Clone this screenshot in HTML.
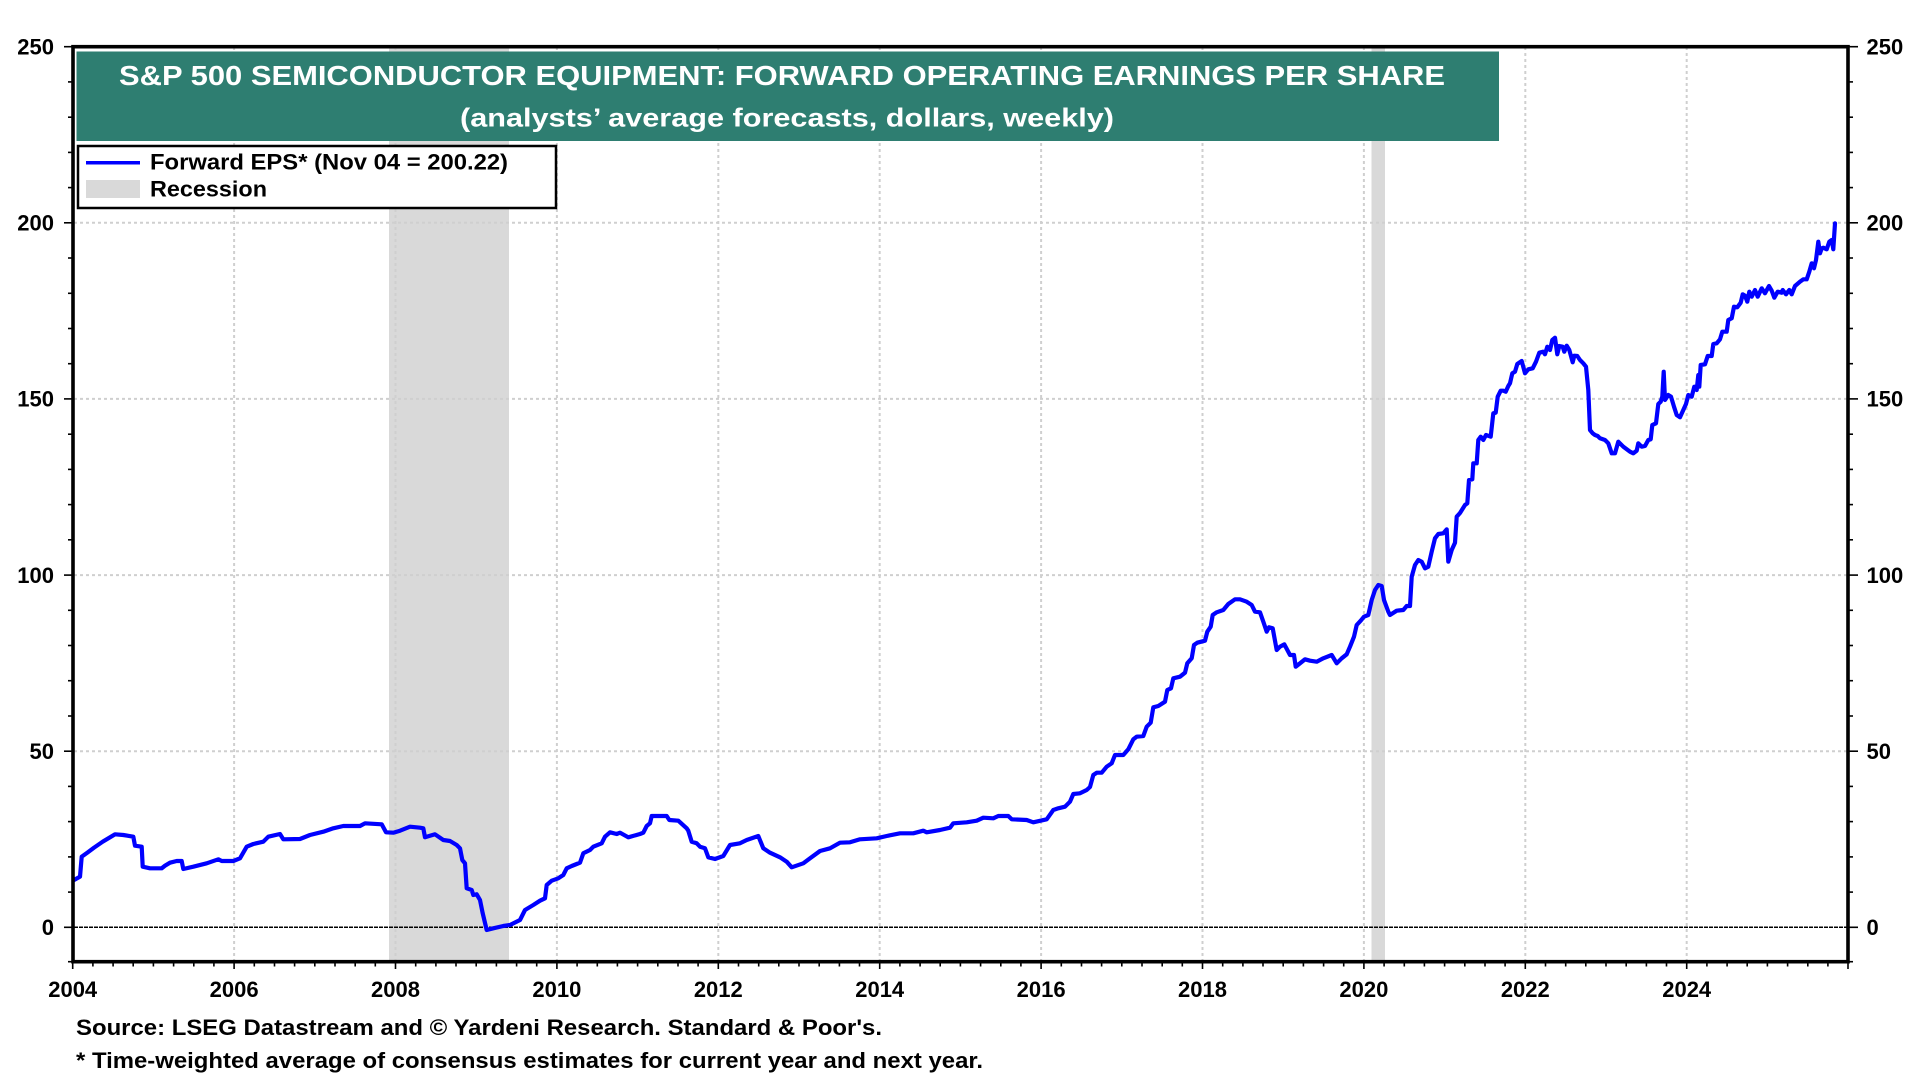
<!DOCTYPE html>
<html><head><meta charset="utf-8"><style>
html,body{margin:0;padding:0;background:#fff;}
svg{display:block;}
text{font-family:"Liberation Sans",Arial,sans-serif;font-weight:bold;}
</style></head><body>
<svg width="1920" height="1080" viewBox="0 0 1920 1080" xmlns="http://www.w3.org/2000/svg">
<rect x="0" y="0" width="1920" height="1080" fill="#fff"/>
<!-- recessions -->
<rect x="389" y="46.7" width="120" height="915" fill="#d9d9d9"/>
<rect x="1371.5" y="46.7" width="13.5" height="915" fill="#d9d9d9"/>
<!-- grid -->
<g stroke="#cfcfcf" stroke-width="2" stroke-dasharray="3,3" fill="none">
<line x1="234.1" y1="47" x2="234.1" y2="961"/>
<line x1="395.5" y1="47" x2="395.5" y2="961"/>
<line x1="556.9" y1="47" x2="556.9" y2="961"/>
<line x1="718.3" y1="47" x2="718.3" y2="961"/>
<line x1="879.7" y1="47" x2="879.7" y2="961"/>
<line x1="1041.1" y1="47" x2="1041.1" y2="961"/>
<line x1="1202.5" y1="47" x2="1202.5" y2="961"/>
<line x1="1363.9" y1="47" x2="1363.9" y2="961"/>
<line x1="1525.3" y1="47" x2="1525.3" y2="961"/>
<line x1="1686.7" y1="47" x2="1686.7" y2="961"/>
<line x1="74" y1="222.8" x2="1847" y2="222.8"/>
<line x1="74" y1="398.9" x2="1847" y2="398.9"/>
<line x1="74" y1="575.1" x2="1847" y2="575.1"/>
<line x1="74" y1="751.2" x2="1847" y2="751.2"/>
</g>
<line x1="74" y1="927.3" x2="1847" y2="927.3" stroke="#000" stroke-width="1.5" stroke-dasharray="4,1"/>
<!-- series -->
<polyline fill="none" stroke="#0000ff" stroke-width="4.2" stroke-linejoin="round" stroke-linecap="round" points="
74,880 80,876.7 81.7,856.7 87.3,852.7 94,847.7 102.7,841.7 110,837.3 115,834.3 123.3,835 133.3,836.7 135,845.7 141.7,846.7 142.7,866.7 150,868.3 161.7,868.3 165,865.7 170,862.7 176.7,861 181.7,861 183.3,869 193.3,866.7 206.7,863.3 218.3,859.3 221.7,861 233.3,861 240,858.3 246.7,846.7 253.3,844 263.3,841.7 268.3,836.7 280,834 283.3,839.3 300,839
310,835 323.3,831.7 333.3,828.3 343.3,826 360,826 365,823.3 381.7,824.3 386,832.3 393.3,832.7 400,830.7 410,826.7 420,827.7 423.3,828.3 425,837.3 435,834.3 443.3,840 450,841 456.7,845 460,848.3 462.3,860 465,863.3 466.7,888.3 471.7,890 473.3,895 476.7,894.3 480,900 482.7,913.3 486.7,930 493.3,928.3 503.3,926 510,925 520,920 525,910 533.3,905 540,900.7 545,898.3 546.7,885 551.7,880.7 558.3,878.3 563.3,875 566.7,868.3 571.7,866 576.7,864 580,862.7 583.3,853.3 590,850 593.3,846.7 601.7,843.3 605,836.7 610,832.3 616.7,834 620,832.7 628.3,837.3 640,834 643.3,832.7 646.7,826 650,823.3 651.7,816 666.7,816 669.3,820 678.3,820.7 686.7,828.3 688.3,830.7 691.7,841.7 696.7,843.3 700,846.7
705,848.3 708.3,857.3 715,859 723.3,856 730,845 740,843.3 746.7,840 758.3,836 763.3,848.3 770,852.7 780,857.3 786.7,861.7 791.7,867.3 803.3,863.3 810,858.3 820,851 830,848.3 840,842.7 850,842.3 860,839.3 876.7,838.3 886.7,836 900,833.3 913.3,833.3 923.3,830.7 926.7,832.3 940,830 950,827.7 953.3,823.3 966.7,822.3 976.7,820.7 983.3,817.7 993.3,818.3 998.3,816 1008.3,816 1011.7,819.3 1026.7,820 1033.3,822.3 1046.7,819.3 1053.3,810 1058.3,808.3 1065,806.7 1070,801.7 1073.3,794 1080,793.3 1086.7,790
1090,787 1093.3,775 1096.7,772.7 1101.7,772.7 1106.7,766.7 1111.7,763.3 1115,755 1123.3,755 1128.3,749.3 1133.3,739.3 1136.7,736.7 1143.3,736 1146.7,726.7 1150.7,722.7 1153.3,707.3 1158.3,706 1165,701.7 1167.3,690 1171,688.3 1173.3,678.3 1180,676.7 1185,672.7 1187.3,663.3 1191.7,658.3 1194,645 1197.3,642.7 1205,640.7 1207.3,631.7 1210.7,626.7 1212.7,615 1216.7,612.3 1223.3,610 1228.3,604 1235,599.3 1240,599.3 1246.7,601.7 1251.7,605 1255,611.7 1260,612.3 1263.3,621.7 1266.7,631.7 1269,627.3 1272.7,628.3 1276.7,650 1280,646.7 1284.3,644.3 1290,655 1294,655 1295.7,666.7 1300,663.3 1305,659.3 1310,660.7 1316.7,661.7 1323.3,658.3 1331.7,655 1336.7,663.3 1341.7,658.3 1346.7,654.3 1350,646.7 1354,636.7 1356.7,625 1360.7,620.7 1364,616.7 1368.3,615 1371.7,600 1375,590 1378.3,585 1381.7,586 1384,600 1388.3,611.7 1390,615 1396.7,610.7 1403.3,610 1406.7,606 1410,606 1411.7,576.7 1415,565 1418.3,560 1421.7,561.7 1425,568.3 1428.3,566.7 1431.7,551.7 1435,538.3 1438.3,534 1443.3,533.3 1446.7,529.3 1448.3,561.7 1451.7,550 1455,542.7 1456.7,516.7
1460,513 1465,505 1467.3,503.3 1469,480 1472.3,479.3 1473.3,463.3 1476.7,463.3 1478.3,440 1480.7,436.7 1483.3,440 1486,435 1490.7,436.7 1493.3,413.3 1495.7,412.7 1497.7,396.7 1500.7,390.7 1503.3,390.7 1505.7,391.7 1508.3,386 1510,383.3 1512.3,373.3 1515,371.7 1517.3,364 1521.7,361 1525,373.3 1528.3,369.3 1532.7,368.3 1536,361.7 1539.3,352.7 1543.3,351.7 1545,354.3 1547.3,346.7 1550,350 1552.3,340 1555,337.7 1557.3,354.3 1559.3,346 1562.7,346.7 1564.3,351.7 1566.7,345.7 1569.3,350 1572.7,362.3 1574.3,355.7 1577.3,356 1580,360 1583.3,363.3 1586,366.7 1588.3,390 1590,430 1592.7,433.3 1595,435 1597.7,436 1600,438.3 1605,440 1608.3,443.3 1611.7,453.3 1615,453.3 1618.3,441.7 1623.3,446.7 1630,451.7 1633.3,453.3 1636.7,450.7 1638.3,443.3 1641.7,446.7 1645,446 1648.3,440 1650.7,439.3 1652.3,425 1656,423.3 1658.3,404 1660.7,401.7 1662.3,396.7 1663.7,371.7 1665,400 1668.3,395 1671,396.7 1674,406.7 1676.7,415 1680,417.3 1683.3,410 1686,404 1688.3,395 1691.7,396.7 1694.3,386.7 1696.7,390 1698.3,375 1699.3,386.7 1700.7,365 1705,364.3 1707.7,356 1711.7,356 1713.3,344 1716.7,343.3 1720,339.3 1722.3,331.7 1726.7,331.7 1728.3,320 1731.7,318.3 1734,306.7 1737.3,307.3 1740.7,302.7 1742.7,294.3 1745,295.7 1747.3,301.7 1749.3,291.7 1751.7,296.7 1755,290 1757.7,296.7 1761.7,288.3 1765,293.3 1769,286 1771.7,290.7 1774.3,297.7 1777.7,291.7 1781.7,292.7 1782.7,290 1786,294.3 1789.3,290 1791.7,294.3 1795,286 1800,281.7 1803.3,279.3 1806.7,279.3 1809.3,271.7 1811.7,263.3 1814,268.3 1816,260 1818.3,241.7 1820,253.3 1821.7,248.3 1823.3,247.7 1826.7,249.3 1829.3,241.7 1831.7,240 1833.3,249.3 1835,223.3"/>
<!-- title box -->
<rect x="76.5" y="51.5" width="1422.5" height="89.5" fill="#2e7e71"/>
<text x="782" y="85" font-size="28" fill="#fff" text-anchor="middle" textLength="1326" lengthAdjust="spacingAndGlyphs">S&amp;P 500 SEMICONDUCTOR EQUIPMENT: FORWARD OPERATING EARNINGS PER SHARE</text>
<text x="787" y="126.5" font-size="26" fill="#fff" text-anchor="middle" textLength="654" lengthAdjust="spacingAndGlyphs">(analysts’ average forecasts, dollars, weekly)</text>
<!-- legend -->
<rect x="78" y="146" width="478" height="62" fill="#fff" stroke="#000" stroke-width="2.5"/>
<line x1="86" y1="162.7" x2="140" y2="162.7" stroke="#0000ff" stroke-width="3.5"/>
<rect x="86" y="180" width="54" height="18" fill="#d9d9d9"/>
<text x="150" y="169.3" font-size="22" fill="#000" textLength="358" lengthAdjust="spacingAndGlyphs">Forward EPS* (Nov 04 = 200.22)</text>
<text x="150" y="196.7" font-size="22" fill="#000" textLength="117" lengthAdjust="spacingAndGlyphs">Recession</text>
<!-- frame -->
<rect x="73" y="46.7" width="1775" height="915" fill="none" stroke="#000" stroke-width="3.6"/>
<!-- y ticks -->
<g stroke="#000" stroke-width="1.6">
<line x1="64" y1="46.7" x2="73" y2="46.7"/><line x1="1848" y1="46.7" x2="1858" y2="46.7"/>
<line x1="68" y1="81.9" x2="73" y2="81.9"/><line x1="1848" y1="81.9" x2="1853" y2="81.9"/>
<line x1="68" y1="117.2" x2="73" y2="117.2"/><line x1="1848" y1="117.2" x2="1853" y2="117.2"/>
<line x1="68" y1="152.4" x2="73" y2="152.4"/><line x1="1848" y1="152.4" x2="1853" y2="152.4"/>
<line x1="68" y1="187.6" x2="73" y2="187.6"/><line x1="1848" y1="187.6" x2="1853" y2="187.6"/>
<line x1="64" y1="222.8" x2="73" y2="222.8"/><line x1="1848" y1="222.8" x2="1858" y2="222.8"/>
<line x1="68" y1="258.0" x2="73" y2="258.0"/><line x1="1848" y1="258.0" x2="1853" y2="258.0"/>
<line x1="68" y1="293.3" x2="73" y2="293.3"/><line x1="1848" y1="293.3" x2="1853" y2="293.3"/>
<line x1="68" y1="328.5" x2="73" y2="328.5"/><line x1="1848" y1="328.5" x2="1853" y2="328.5"/>
<line x1="68" y1="363.7" x2="73" y2="363.7"/><line x1="1848" y1="363.7" x2="1853" y2="363.7"/>
<line x1="64" y1="398.9" x2="73" y2="398.9"/><line x1="1848" y1="398.9" x2="1858" y2="398.9"/>
<line x1="68" y1="434.2" x2="73" y2="434.2"/><line x1="1848" y1="434.2" x2="1853" y2="434.2"/>
<line x1="68" y1="469.4" x2="73" y2="469.4"/><line x1="1848" y1="469.4" x2="1853" y2="469.4"/>
<line x1="68" y1="504.6" x2="73" y2="504.6"/><line x1="1848" y1="504.6" x2="1853" y2="504.6"/>
<line x1="68" y1="539.8" x2="73" y2="539.8"/><line x1="1848" y1="539.8" x2="1853" y2="539.8"/>
<line x1="64" y1="575.1" x2="73" y2="575.1"/><line x1="1848" y1="575.1" x2="1858" y2="575.1"/>
<line x1="68" y1="610.3" x2="73" y2="610.3"/><line x1="1848" y1="610.3" x2="1853" y2="610.3"/>
<line x1="68" y1="645.5" x2="73" y2="645.5"/><line x1="1848" y1="645.5" x2="1853" y2="645.5"/>
<line x1="68" y1="680.7" x2="73" y2="680.7"/><line x1="1848" y1="680.7" x2="1853" y2="680.7"/>
<line x1="68" y1="716.0" x2="73" y2="716.0"/><line x1="1848" y1="716.0" x2="1853" y2="716.0"/>
<line x1="64" y1="751.2" x2="73" y2="751.2"/><line x1="1848" y1="751.2" x2="1858" y2="751.2"/>
<line x1="68" y1="786.4" x2="73" y2="786.4"/><line x1="1848" y1="786.4" x2="1853" y2="786.4"/>
<line x1="68" y1="821.6" x2="73" y2="821.6"/><line x1="1848" y1="821.6" x2="1853" y2="821.6"/>
<line x1="68" y1="856.9" x2="73" y2="856.9"/><line x1="1848" y1="856.9" x2="1853" y2="856.9"/>
<line x1="68" y1="892.1" x2="73" y2="892.1"/><line x1="1848" y1="892.1" x2="1853" y2="892.1"/>
<line x1="64" y1="927.3" x2="73" y2="927.3"/><line x1="1848" y1="927.3" x2="1858" y2="927.3"/>
<line x1="68" y1="961.7" x2="73" y2="961.7"/><line x1="1848" y1="961.7" x2="1853" y2="961.7"/>
</g>
<!-- x ticks -->
<g stroke="#000" stroke-width="1.6">
<line x1="72.7" y1="962" x2="72.7" y2="969"/><line x1="92.9" y1="962" x2="92.9" y2="966.5"/><line x1="113.1" y1="962" x2="113.1" y2="966.5"/><line x1="133.2" y1="962" x2="133.2" y2="966.5"/><line x1="153.4" y1="962" x2="153.4" y2="966.5"/><line x1="173.6" y1="962" x2="173.6" y2="966.5"/><line x1="193.8" y1="962" x2="193.8" y2="966.5"/><line x1="213.9" y1="962" x2="213.9" y2="966.5"/>
<line x1="234.1" y1="962" x2="234.1" y2="969"/><line x1="254.3" y1="962" x2="254.3" y2="966.5"/><line x1="274.5" y1="962" x2="274.5" y2="966.5"/><line x1="294.6" y1="962" x2="294.6" y2="966.5"/><line x1="314.8" y1="962" x2="314.8" y2="966.5"/><line x1="335.0" y1="962" x2="335.0" y2="966.5"/><line x1="355.2" y1="962" x2="355.2" y2="966.5"/><line x1="375.3" y1="962" x2="375.3" y2="966.5"/>
<line x1="395.5" y1="962" x2="395.5" y2="969"/><line x1="415.7" y1="962" x2="415.7" y2="966.5"/><line x1="435.9" y1="962" x2="435.9" y2="966.5"/><line x1="456.0" y1="962" x2="456.0" y2="966.5"/><line x1="476.2" y1="962" x2="476.2" y2="966.5"/><line x1="496.4" y1="962" x2="496.4" y2="966.5"/><line x1="516.6" y1="962" x2="516.6" y2="966.5"/><line x1="536.7" y1="962" x2="536.7" y2="966.5"/>
<line x1="556.9" y1="962" x2="556.9" y2="969"/><line x1="577.1" y1="962" x2="577.1" y2="966.5"/><line x1="597.3" y1="962" x2="597.3" y2="966.5"/><line x1="617.4" y1="962" x2="617.4" y2="966.5"/><line x1="637.6" y1="962" x2="637.6" y2="966.5"/><line x1="657.8" y1="962" x2="657.8" y2="966.5"/><line x1="678.0" y1="962" x2="678.0" y2="966.5"/><line x1="698.1" y1="962" x2="698.1" y2="966.5"/>
<line x1="718.3" y1="962" x2="718.3" y2="969"/><line x1="738.5" y1="962" x2="738.5" y2="966.5"/><line x1="758.7" y1="962" x2="758.7" y2="966.5"/><line x1="778.8" y1="962" x2="778.8" y2="966.5"/><line x1="799.0" y1="962" x2="799.0" y2="966.5"/><line x1="819.2" y1="962" x2="819.2" y2="966.5"/><line x1="839.4" y1="962" x2="839.4" y2="966.5"/><line x1="859.5" y1="962" x2="859.5" y2="966.5"/>
<line x1="879.7" y1="962" x2="879.7" y2="969"/><line x1="899.9" y1="962" x2="899.9" y2="966.5"/><line x1="920.1" y1="962" x2="920.1" y2="966.5"/><line x1="940.2" y1="962" x2="940.2" y2="966.5"/><line x1="960.4" y1="962" x2="960.4" y2="966.5"/><line x1="980.6" y1="962" x2="980.6" y2="966.5"/><line x1="1000.8" y1="962" x2="1000.8" y2="966.5"/><line x1="1020.9" y1="962" x2="1020.9" y2="966.5"/>
<line x1="1041.1" y1="962" x2="1041.1" y2="969"/><line x1="1061.3" y1="962" x2="1061.3" y2="966.5"/><line x1="1081.5" y1="962" x2="1081.5" y2="966.5"/><line x1="1101.6" y1="962" x2="1101.6" y2="966.5"/><line x1="1121.8" y1="962" x2="1121.8" y2="966.5"/><line x1="1142.0" y1="962" x2="1142.0" y2="966.5"/><line x1="1162.2" y1="962" x2="1162.2" y2="966.5"/><line x1="1182.3" y1="962" x2="1182.3" y2="966.5"/>
<line x1="1202.5" y1="962" x2="1202.5" y2="969"/><line x1="1222.7" y1="962" x2="1222.7" y2="966.5"/><line x1="1242.9" y1="962" x2="1242.9" y2="966.5"/><line x1="1263.0" y1="962" x2="1263.0" y2="966.5"/><line x1="1283.2" y1="962" x2="1283.2" y2="966.5"/><line x1="1303.4" y1="962" x2="1303.4" y2="966.5"/><line x1="1323.6" y1="962" x2="1323.6" y2="966.5"/><line x1="1343.7" y1="962" x2="1343.7" y2="966.5"/>
<line x1="1363.9" y1="962" x2="1363.9" y2="969"/><line x1="1384.1" y1="962" x2="1384.1" y2="966.5"/><line x1="1404.3" y1="962" x2="1404.3" y2="966.5"/><line x1="1424.4" y1="962" x2="1424.4" y2="966.5"/><line x1="1444.6" y1="962" x2="1444.6" y2="966.5"/><line x1="1464.8" y1="962" x2="1464.8" y2="966.5"/><line x1="1485.0" y1="962" x2="1485.0" y2="966.5"/><line x1="1505.1" y1="962" x2="1505.1" y2="966.5"/>
<line x1="1525.3" y1="962" x2="1525.3" y2="969"/><line x1="1545.5" y1="962" x2="1545.5" y2="966.5"/><line x1="1565.7" y1="962" x2="1565.7" y2="966.5"/><line x1="1585.8" y1="962" x2="1585.8" y2="966.5"/><line x1="1606.0" y1="962" x2="1606.0" y2="966.5"/><line x1="1626.2" y1="962" x2="1626.2" y2="966.5"/><line x1="1646.4" y1="962" x2="1646.4" y2="966.5"/><line x1="1666.5" y1="962" x2="1666.5" y2="966.5"/>
<line x1="1686.7" y1="962" x2="1686.7" y2="969"/><line x1="1706.9" y1="962" x2="1706.9" y2="966.5"/><line x1="1727.1" y1="962" x2="1727.1" y2="966.5"/><line x1="1747.2" y1="962" x2="1747.2" y2="966.5"/><line x1="1767.4" y1="962" x2="1767.4" y2="966.5"/><line x1="1787.6" y1="962" x2="1787.6" y2="966.5"/><line x1="1807.8" y1="962" x2="1807.8" y2="966.5"/><line x1="1827.9" y1="962" x2="1827.9" y2="966.5"/>
<line x1="1848" y1="962" x2="1848" y2="969"/>
</g>
<!-- y labels -->
<g font-size="22" fill="#000" text-anchor="end">
<text x="54" y="54.5">250</text>
<text x="54" y="230.6">200</text>
<text x="54" y="406.7">150</text>
<text x="54" y="582.9">100</text>
<text x="54" y="759">50</text>
<text x="54" y="935.1">0</text>
</g>
<g font-size="22" fill="#000" text-anchor="start">
<text x="1866.5" y="54.5">250</text>
<text x="1866.5" y="230.6">200</text>
<text x="1866.5" y="406.7">150</text>
<text x="1866.5" y="582.9">100</text>
<text x="1866.5" y="759">50</text>
<text x="1866.5" y="935.1">0</text>
</g>
<!-- x labels -->
<g font-size="22" fill="#000" text-anchor="middle">
<text x="72.7" y="997">2004</text>
<text x="234.1" y="997">2006</text>
<text x="395.5" y="997">2008</text>
<text x="556.9" y="997">2010</text>
<text x="718.3" y="997">2012</text>
<text x="879.7" y="997">2014</text>
<text x="1041.1" y="997">2016</text>
<text x="1202.5" y="997">2018</text>
<text x="1363.9" y="997">2020</text>
<text x="1525.3" y="997">2022</text>
<text x="1686.7" y="997">2024</text>
</g>
<!-- footnotes -->
<text x="76" y="1035" font-size="22" fill="#000" textLength="806" lengthAdjust="spacingAndGlyphs">Source: LSEG Datastream and © Yardeni Research. Standard &amp; Poor's.</text>
<text x="76" y="1068" font-size="22" fill="#000" textLength="907" lengthAdjust="spacingAndGlyphs">* Time-weighted average of consensus estimates for current year and next year.</text>
</svg>
</body></html>
